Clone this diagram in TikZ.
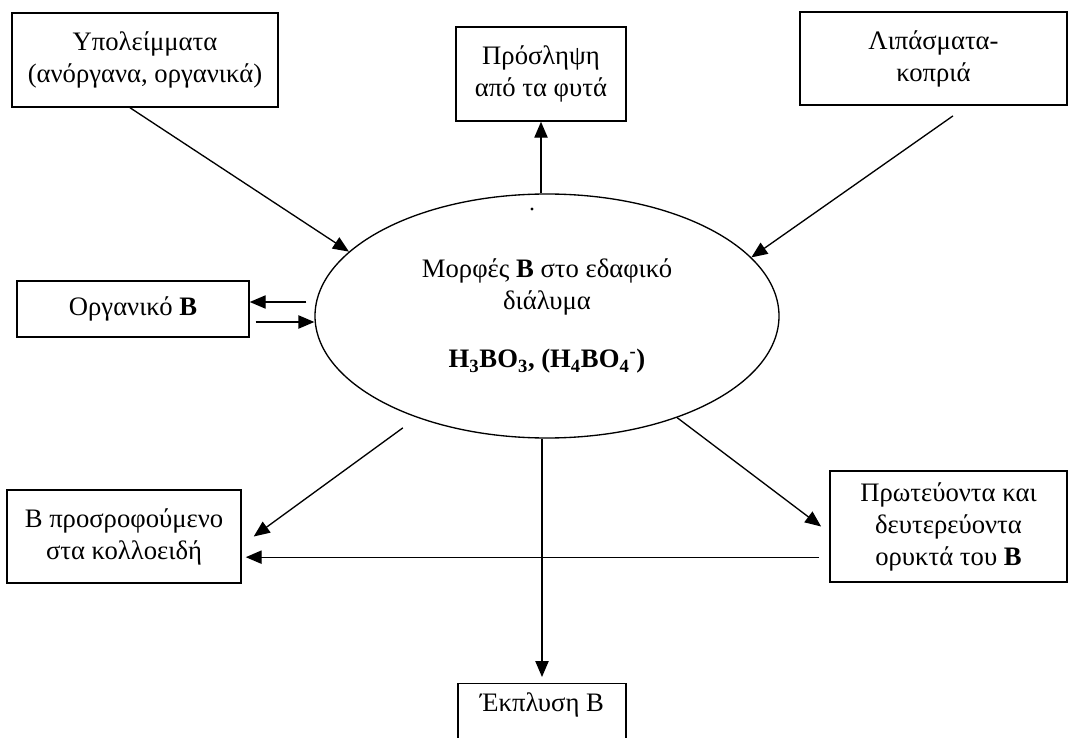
\documentclass[tikz,border=0pt]{standalone}
\usepackage{fontspec}
\setmainfont{Liberation Serif}
\usepackage{tikz}
\usetikzlibrary{shapes.geometric,arrows.meta}

\begin{document}
\begin{tikzpicture}[x=0.75pt,y=-0.75pt]
	\useasboundingbox (0,0) rectangle (1068,738);
	\clip (0,0) rectangle (1068,738);
		\begin{scope}[every node/.style={rectangle,draw,line width=1.1pt,align=center,inner sep=2pt,font=\fontsize{20}{24}\selectfont}]
			\node[minimum width=199.5pt,minimum height=70.5pt] (1) at (145,60) {Υπολείμματα\\(ανόργανα, οργανικά)};
			\node[minimum width=127.5pt,minimum height=70.5pt] (2) at (541,74) {Πρόσληψη\\από τα φυτά};
			\node[minimum width=200pt,minimum height=70pt] (3) at (933.5,58.5) {Λιπάσματα-\\κοπριά};
			\node[minimum width=174pt,minimum height=42pt] (4) at (133,309) {Οργανικό \textbf{B}};
			\node[minimum width=175.5pt,minimum height=70pt] (5) at (124,536.5) {B προσροφούμενο\\στα κολλοειδή};
			\node[minimum width=178pt,minimum height=83pt] (6) at (948.5,526.5) {Πρωτεύοντα και\\δευτερεύοντα\\ορυκτά του \textbf{B}};
			\node[anchor=north,minimum width=126pt,text height=19pt,text depth=45pt] (7) at (542,683) {Έκπλυση B};
			\node[ellipse,line width=1pt,inner sep=0pt,minimum width=348pt,minimum height=183pt] (0) at (547,316) {Μορφές \textbf{B} στο εδαφικό\\διάλυμα\\[20pt]\textbf{H\textsubscript{3}BO\textsubscript{3}, (H\textsubscript{4}BO\textsubscript{4}\textsuperscript{-})}};
		\end{scope}
		\fill (532,209) circle (1.2pt);

	\begin{scope}[>={Triangle[length=12pt,width=10pt]},
              every edge/.style={draw=black,line width=1pt,->}]
	\coordinate (8) at ([xshift=-7.5pt,yshift=-23pt]6.west);

  \path ([xshift=-11.25pt]1.south) edge (0.162);
	\path ([xshift=14.6pt,yshift=-7.5pt]3.south) edge (0.16);
	\path (2.south |- 0.north) edge (2.south);
	\path ([xshift=-6pt,yshift=10.5pt]0.west) edge ([yshift=5.25pt]4.east);
	\path ([xshift=4.5pt,yshift=-9.75pt]4.east) edge ([yshift=-4.5pt]0.west);
	\path (0.218) edge[shorten <=13pt] ([xshift=9pt]5.east);
	\path (0.322) edge ([xshift=-6pt]6.west);
	\path (8) edge[shorten >=3pt] (5.east |- 8);
	\path (7.north |- 0.south) edge[shorten >=4.5pt] (7.north);

\end{scope}
\end{tikzpicture}
\end{document}
